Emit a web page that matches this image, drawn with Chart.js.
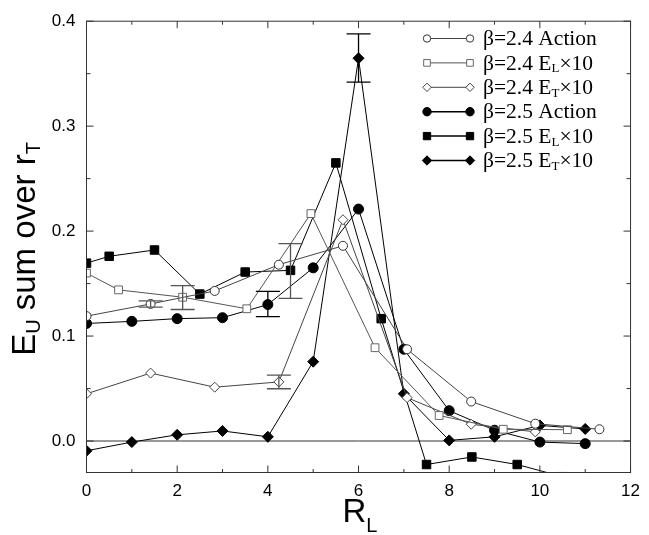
<!DOCTYPE html>
<html>
<head>
<meta charset="utf-8">
<script src="https://cdn.jsdelivr.net/npm/chart.js@4.4.0/dist/chart.umd.min.js"></script>
<style>
  html, body { margin: 0; padding: 0; background: #fff; }
  #wrap { width: 649px; height: 535px; }
</style>
</head>
<body>
<div id="wrap"><canvas id="chart" width="649" height="535"></canvas></div>
<script>
// beta = 2.4, steps along the diagonal
const xA24 = [0, 1.414, 2.828, 4.243, 5.657, 7.071, 8.485, 9.899, 11.314];
const yA24 = [0.119, 0.1306, 0.143, 0.168, 0.186, 0.0874, 0.0376, 0.0165, 0.0112];
const xL24 = [0, 0.707, 2.121, 3.536, 4.950, 6.364, 7.778, 9.192, 10.607];
const yL24 = [0.160, 0.144, 0.137, 0.126, 0.2167, 0.0889, 0.0243, 0.0112, 0.0108];
const xT24 = [0, 1.414, 2.828, 4.243, 5.657, 7.071, 8.485, 9.899];
const yT24 = [0.045, 0.0647, 0.0513, 0.0563, 0.2108, 0.0413, 0.0160, 0.0087];

// beta = 2.5
const xA25 = [0, 1, 2, 3, 4, 5, 6, 7, 8, 9, 10, 11];
const yA25 = [0.112, 0.114, 0.1166, 0.1175, 0.130, 0.165, 0.221, 0.0874, 0.0289, 0.0103, -0.001, -0.0025];
const xL25 = [0, 0.5, 1.5, 2.5, 3.5, 4.5, 5.5, 6.5, 7.5, 8.5, 9.5, 10.5];
const yL25 = [0.1695, 0.176, 0.182, 0.140, 0.161, 0.1626, 0.265, 0.1166, -0.0224, -0.0152, -0.0224, -0.034];
const xT25 = [0, 1, 2, 3, 4, 5, 6, 7, 8, 9, 10, 11];
const yT25 = [-0.0093, -0.001, 0.0059, 0.0096, 0.004, 0.0756, 0.3647, 0.045, 0.0006, 0.004, 0.0149, 0.0115];

// error bars: which series, where, half height
const errSeries = [0, 1, 2, 3, 4, 5];
const errX = [1.414, 2.121, 4.243, 4, 4.5, 6];
const errY = [0.1306, 0.1367, 0.0563, 0.1305, 0.162, 0.365];
const errD = [0.003, 0.0114, 0.0065, 0.012, 0.026, 0.023];

const xTicks = [0, 2, 4, 6, 8, 10, 12];
const yTicks = [0, 0.1, 0.2, 0.3, 0.4];

const legMain = ['β=2.4 Action', 'β=2.4 E', 'β=2.4 E', 'β=2.5 Action', 'β=2.5 E', 'β=2.5 E'];
const legSub = ['', 'L', 'T', '', 'L', 'T'];
const legTail = ['', '×10', '×10', '', '×10', '×10'];

const seriesX = [xA24, xL24, xT24, xA25, xL25, xT25];
const seriesY = [yA24, yL24, yT24, yA25, yL25, yT25];
const styles = [
    { shape: 'circle', r: 4.5, fill: '#fff', stroke: '#333', line: '#444' },
    { shape: 'rect', r: 5.5, fill: '#fff', stroke: '#666', line: '#555' },
    { shape: 'rectRot', r: 5, fill: '#fff', stroke: '#444', line: '#444' },
    { shape: 'circle', r: 5, fill: '#000', stroke: '#000', line: '#000' },
    { shape: 'rect', r: 6, fill: '#000', stroke: '#000', line: '#000' },
    { shape: 'rectRot', r: 5.5, fill: '#000', stroke: '#000', line: '#000' }
];

const datasets = seriesX.map((xs, i) => ({
    label: legMain[i] + legSub[i] + legTail[i],
    data: xs.map((v, j) => ({ x: v, y: seriesY[i][j] })),
    showLine: true,
    borderColor: styles[i].line,
    borderWidth: 1,
    pointStyle: styles[i].shape,
    pointRadius: styles[i].r,
    pointBackgroundColor: styles[i].fill,
    pointBorderColor: styles[i].stroke,
    pointBorderWidth: 1
}));

function drawMark(ctx, s, x, y, r) {
    ctx.beginPath();
    if (s.shape === 'circle') {
        ctx.arc(x, y, r, 0, Math.PI * 2);
    } else if (s.shape === 'rect') {
        const h = r * Math.SQRT1_2;
        ctx.rect(x - h, y - h, 2 * h, 2 * h);
    } else {
        ctx.moveTo(x, y - r); ctx.lineTo(x + r, y); ctx.lineTo(x, y + r); ctx.lineTo(x - r, y); ctx.closePath();
    }
    ctx.fillStyle = s.fill; ctx.fill();
    ctx.strokeStyle = s.stroke; ctx.lineWidth = 1; ctx.stroke();
}

// draw text pieces: [text, font, dy]
function piecesWidth(ctx, parts) {
    let w = 0;
    parts.forEach(p => { ctx.font = p[1]; w += ctx.measureText(p[0]).width; });
    return w;
}
function drawPieces(ctx, parts, x, y) {
    parts.forEach(p => {
        ctx.font = p[1];
        ctx.fillText(p[0], x, y + p[2]);
        x += ctx.measureText(p[0]).width;
    });
}

const overlay = {
    id: 'overlay',
    beforeDatasetsDraw(chart) {
        const { ctx, chartArea: a, scales: { y } } = chart;
        const y0 = y.getPixelForValue(0);
        ctx.save();
        ctx.strokeStyle = '#333';
        ctx.lineWidth = 1;
        ctx.beginPath(); ctx.moveTo(a.left, y0); ctx.lineTo(a.right, y0); ctx.stroke();
        ctx.restore();
    },
    afterDatasetsDraw(chart) {
        const { ctx, scales: { x, y } } = chart;
        ctx.save();
        ctx.lineWidth = 1.3;
        errX.forEach((v, i) => {
            const px = x.getPixelForValue(v);
            const top = y.getPixelForValue(errY[i] + errD[i]);
            const bot = y.getPixelForValue(errY[i] - errD[i]);
            ctx.strokeStyle = styles[errSeries[i]].line === '#000' && errSeries[i] !== 4 ? '#000' : '#555';
            ctx.beginPath();
            ctx.moveTo(px, top); ctx.lineTo(px, bot);
            ctx.moveTo(px - 12, top); ctx.lineTo(px + 12, top);
            ctx.moveTo(px - 12, bot); ctx.lineTo(px + 12, bot);
            ctx.stroke();
        });
        ctx.restore();
    },
    afterDraw(chart) {
        const { ctx, chartArea: a, scales: { x, y } } = chart;
        ctx.save();
        // frame and inward ticks
        ctx.strokeStyle = '#333';
        ctx.lineWidth = 1;
        ctx.strokeRect(a.left, a.top, a.right - a.left, a.bottom - a.top);
        ctx.beginPath();
        for (let v = 0; v <= 12; v += 1) {
            const px = x.getPixelForValue(v);
            const len = v % 2 === 0 ? 7 : 3.5;
            ctx.moveTo(px, a.bottom); ctx.lineTo(px, a.bottom - len);
            ctx.moveTo(px, a.top); ctx.lineTo(px, a.top + len);
        }
        for (let k = 0; k <= 8; k++) {
            const py = y.getPixelForValue(k * 0.05);
            const len = k % 2 === 0 ? 7 : 4;
            ctx.moveTo(a.left, py); ctx.lineTo(a.left + len, py);
            ctx.moveTo(a.right, py); ctx.lineTo(a.right - len, py);
        }
        ctx.stroke();

        // legend
        ctx.fillStyle = '#000';
        ctx.textBaseline = 'middle';
        legMain.forEach((t, i) => {
            const ly = 38.5 + i * 24.4;
            const s = styles[i];
            ctx.strokeStyle = s.line;
            ctx.lineWidth = i < 3 ? 1 : 1.5;
            ctx.beginPath(); ctx.moveTo(427, ly); ctx.lineTo(470, ly); ctx.stroke();
            const lr = s.r - 0.8;
            drawMark(ctx, s, 427, ly, lr);
            drawMark(ctx, s, 470, ly, lr);
            ctx.fillStyle = '#000';
            const parts = [[t, '21.5px "Liberation Serif"', 0]];
            if (legSub[i]) parts.push([legSub[i], '13px "Liberation Serif"', 5]);
            if (legTail[i]) parts.push([legTail[i], '21.5px "Liberation Serif"', 0]);
            drawPieces(ctx, parts, 483, ly + 1);
        });

        // axis titles
        ctx.textBaseline = 'alphabetic';
        const big = '33px "Liberation Sans"';
        const small = '20px "Liberation Sans"';
        const xt = [['R', big, 0], ['L', small, 10]];
        const xw = piecesWidth(ctx, xt);
        drawPieces(ctx, xt, 360 - xw / 2, 521.5);

        ctx.translate(34.5, 249);
        ctx.rotate(-Math.PI / 2);
        const yt = [['E', big, 0], ['U', small, 5], [' sum over r', big, 0], ['T', small, 5]];
        const yw = piecesWidth(ctx, yt);
        drawPieces(ctx, yt, -yw / 2, 0);
        ctx.restore();
    }
};

new Chart(document.getElementById('chart'), {
    type: 'scatter',
    data: { datasets: datasets },
    options: {
        responsive: false,
        animation: false,
        layout: { padding: { top: 12, right: 11, left: 0, bottom: 0 } },
        plugins: { legend: { display: false }, tooltip: { enabled: false } },
        scales: {
            x: {
                type: 'linear', min: 0, max: 12,
                afterBuildTicks: s => { s.ticks = xTicks.map(v => ({ value: v })); },
                afterFit: s => { s.height = 62.5; },
                grid: { display: false, drawTicks: false },
                border: { display: false },
                ticks: { font: { family: 'Liberation Sans', size: 17 }, color: '#000', padding: 9, maxRotation: 0 }
            },
            y: {
                type: 'linear', min: -0.03, max: 0.4,
                afterBuildTicks: s => { s.ticks = yTicks.map(v => ({ value: v })); },
                afterFit: s => { s.width = 86.5; },
                grid: { display: false, drawTicks: false },
                border: { display: false },
                ticks: {
                    font: { family: 'Liberation Sans', size: 17 }, color: '#000', padding: 11,
                    callback: v => Number(v).toFixed(1)
                }
            }
        }
    },
    plugins: [overlay]
});
</script>
</body>
</html>
